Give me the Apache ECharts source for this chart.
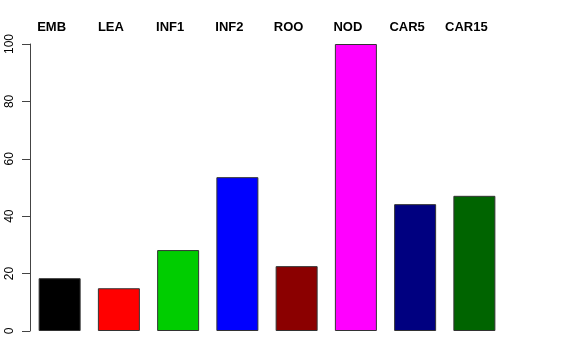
<!DOCTYPE html>
<html>
<head>
<meta charset="utf-8">
<script src="https://cdn.jsdelivr.net/npm/echarts@6/dist/echarts.min.js"></script>
<style>html,body{margin:0;padding:0;background:#fff}#c{width:576px;height:360px}</style>
</head>
<body>
<div id="c"></div>
<script>
var categories = ["EMB", "LEA", "INF1", "INF2", "ROO", "NOD", "CAR5", "CAR15"];
var values = [18.4, 14.9, 28.2, 53.6, 22.6, 100, 44.2, 47.1];
var colors = ["#000000", "#ff0000", "#00cd00", "#0000ff", "#8b0000", "#ff00ff", "#000080", "#006400"];
var yTicks = [0, 20, 40, 60, 80, 100];

var chart = echarts.init(document.getElementById('c'), null, {renderer: 'canvas'});
chart.setOption({
  animation: false,
  backgroundColor: '#ffffff',
  grid: {left: 30, right: 72, top: 44, bottom: 29},
  xAxis: {
    type: 'category',
    position: 'top',
    data: categories,
    axisLine: {show: false},
    axisTick: {show: false},
    axisLabel: {
      color: '#000',
      fontWeight: 'bold',
      fontSize: 13,
      fontFamily: 'Liberation Sans, Arial, sans-serif',
      margin: 10,
      padding: [0, 16, 0, 0]
    }
  },
  yAxis: {
    type: 'value',
    min: yTicks[0],
    max: yTicks[yTicks.length - 1],
    interval: 20,
    splitLine: {show: false},
    axisLine: {show: true, lineStyle: {color: '#444', width: 1}},
    axisTick: {show: true, length: 8, lineStyle: {color: '#444', width: 1}},
    axisLabel: {
      rotate: 90,
      color: '#000',
      fontSize: 12,
      fontFamily: 'Liberation Sans, Arial, sans-serif',
      margin: 14
    }
  },
  series: [{
    type: 'bar',
    barWidth: 42,
    data: values.map(function (v, i) {
      return {value: v, itemStyle: {color: colors[i]}};
    }),
    itemStyle: {borderColor: '#333', borderWidth: 1}
  }]
});
</script>
</body>
</html>
